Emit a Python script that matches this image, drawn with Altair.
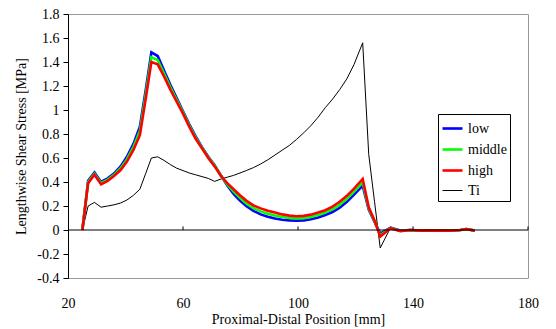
import altair as alt
import pandas as pd

# Data
x_pos = [25, 27, 29.2, 31.5, 33.8, 36, 38.3, 40.5, 42.8, 45,
         47, 49, 51.2, 53.4, 55.6, 57.8, 60, 62.2, 64.4, 66.6,
         68.8, 71, 73.2, 75.4, 77.6, 79.8, 82, 84.5, 87, 89.5,
         92, 94.5, 97, 99.5, 102, 104.5, 107, 109.5, 112, 114.5,
         117, 119.5, 122.5, 124.6, 126.6, 128.6, 132.2, 135.6, 139, 142.5,
         146, 149.5, 153, 156.5, 158.5, 161.5]

low = [0, 0.41, 0.48, 0.40, 0.43, 0.47, 0.53, 0.61, 0.72, 0.86,
       1.16, 1.48, 1.45, 1.33, 1.21, 1.10, 0.99, 0.88, 0.78, 0.69,
       0.61, 0.54, 0.455, 0.37, 0.30, 0.245, 0.20, 0.16, 0.13, 0.11,
       0.095, 0.085, 0.08, 0.078, 0.08, 0.09, 0.105, 0.125, 0.15, 0.185,
       0.235, 0.295, 0.37, 0.17, 0.07, -0.03, 0.02, -0.005, 0, -0.005,
       -0.005, -0.005, -0.005, 0, 0.008, -0.005]

middle = [0, 0.40, 0.47, 0.39, 0.42, 0.46, 0.515, 0.59, 0.695, 0.825,
          1.125, 1.44, 1.415, 1.305, 1.19, 1.085, 0.98, 0.87, 0.77, 0.685,
          0.605, 0.535, 0.452, 0.38, 0.32, 0.268, 0.222, 0.182, 0.155, 0.135,
          0.12, 0.108, 0.1, 0.097, 0.099, 0.109, 0.125, 0.145, 0.172, 0.21,
          0.26, 0.32, 0.397, 0.18, 0.075, -0.045, 0.018, -0.008, 0, -0.005,
          -0.005, -0.005, -0.005, 0, 0.008, -0.005]

high = [0, 0.39, 0.46, 0.38, 0.41, 0.45, 0.50, 0.57, 0.67, 0.79,
        1.09, 1.40, 1.38, 1.28, 1.17, 1.07, 0.97, 0.86, 0.76, 0.68,
        0.60, 0.53, 0.45, 0.39, 0.34, 0.29, 0.245, 0.205, 0.18, 0.16,
        0.145, 0.13, 0.12, 0.115, 0.118, 0.128, 0.145, 0.165, 0.195, 0.235,
        0.285, 0.345, 0.425, 0.19, 0.08, -0.055, 0.015, -0.01, 0, -0.005,
        -0.005, -0.005, -0.005, 0, 0.008, -0.005]

ti = [0, 0.20, 0.23, 0.19, 0.20, 0.21, 0.225, 0.25, 0.29, 0.34,
      0.47, 0.60, 0.61, 0.58, 0.545, 0.515, 0.495, 0.475, 0.46, 0.445,
      0.43, 0.405, 0.425, 0.44, 0.455, 0.475, 0.495, 0.52, 0.55, 0.585,
      0.625, 0.665, 0.705, 0.755, 0.81, 0.87, 0.94, 1.02, 1.09, 1.17,
      1.26, 1.38, 1.56, 0.63, 0.24, -0.15, 0.02, -0.01, 0, -0.005,
      -0.005, -0.005, -0.005, 0, 0.005, -0.005]

series_names = ["low", "middle", "high", "Ti"]
series_colors = ["#0000FF", "#00FF00", "#FF0000", "#000000"]
series_widths = [2.6, 2.6, 2.6, 1.0]

x_ticks = [20, 60, 100, 140, 180]
y_ticks = [-0.4, -0.2, 0, 0.2, 0.4, 0.6, 0.8, 1, 1.2, 1.4, 1.6, 1.8]
zero_ticks = [60, 100, 140, 180]

FONT = "Liberation Serif"

def frame(name, vals):
    return pd.DataFrame({"x": x_pos, "y": vals, "series": name})

color_scale = alt.Scale(domain=series_names, range=series_colors)
width_scale = alt.Scale(type="ordinal", domain=series_names, range=series_widths)
x_scale = alt.Scale(domain=[20, 180], nice=False)
y_scale = alt.Scale(domain=[-0.4, 1.8], nice=False)

x_axis = alt.Axis(values=x_ticks, domain=False, ticks=False, grid=False,
                  labelPadding=18, title="Proximal-Distal Position [mm]",
                  titlePadding=2, labelFlush=False, labelOverlap=False,
                  labelFont=FONT, titleFont=FONT, labelFontSize=14, titleFontSize=14)
y_axis = alt.Axis(values=y_ticks, grid=False, domainColor="black", tickColor="black",
                  tickSize=5, labelPadding=4, labelOverlap=False, labelFlush=False,
                  labelExpr="toString(round(datum.value*10)/10)",
                  title="Lengthwise Shear Stress [MPa]", titlePadding=8,
                  labelFont=FONT, titleFont=FONT, labelFontSize=14, titleFontSize=14)

legend = alt.Legend(title=None, orient="none", legendX=370, legendY=100,
                    strokeColor="black", fillColor="white", padding=3,
                    symbolType="stroke", symbolSize=400,
                    rowPadding=2, labelOffset=4, labelFont=FONT, labelFontSize=14)

def line_layer(name, vals):
    return alt.Chart(frame(name, vals)).mark_line(clip=True).encode(
        x=alt.X("x:Q", scale=x_scale, axis=x_axis),
        y=alt.Y("y:Q", scale=y_scale, axis=y_axis),
        color=alt.Color("series:N", scale=color_scale, legend=legend),
        strokeWidth=alt.StrokeWidth("series:N", scale=width_scale, legend=legend),
    )

zero_line = alt.Chart(pd.DataFrame({"y": [0]})).mark_rule(color="black", strokeWidth=1).encode(
    y=alt.Y("y:Q", scale=y_scale, axis=y_axis))
zero_tick_marks = alt.Chart(pd.DataFrame({"x": zero_ticks, "y": [0] * len(zero_ticks),
                                          "y1": [0.03] * len(zero_ticks)})).mark_rule(
    color="black", strokeWidth=1).encode(
    x=alt.X("x:Q", scale=x_scale, axis=x_axis),
    y=alt.Y("y:Q", scale=y_scale, axis=y_axis), y2="y1:Q")

chart = alt.layer(
    line_layer("Ti", ti),
    line_layer("low", low),
    line_layer("middle", middle),
    line_layer("high", high),
    zero_line,
    zero_tick_marks,
).properties(
    width=460, height=264,
    autosize=alt.AutoSizeParams(type="none"),
    padding={"left": 68, "top": 14, "right": 28, "bottom": 51},
    background="white",
).configure_view(stroke="#999999", strokeWidth=1).configure_axis(
    titleFontWeight="normal", labelColor="black", titleColor="black",
).configure_legend(labelColor="black")

chart.save("out.html", embed_options={"renderer": "svg", "actions": False})
